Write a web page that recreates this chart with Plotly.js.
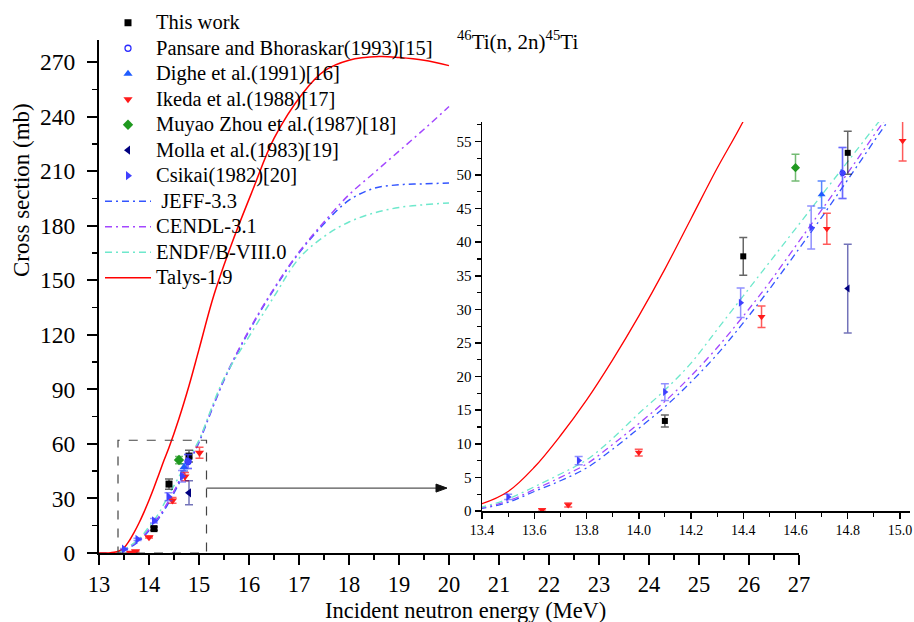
<!DOCTYPE html>
<html><head><meta charset="utf-8">
<script src="https://cdn.plot.ly/plotly-3.0.1.min.js"></script>
<style>html,body{margin:0;padding:0;background:#fff}</style>
</head><body><div id="chart" style="width:914px;height:622px"></div>
<script>
// ---- evaluated / calculated curves ----
const talysE  = [13.0,13.2,13.3,13.4,13.5,13.6,13.7,13.8,13.9,14.0,14.1,14.2,14.3,14.4,14.6,14.8,15.0,15.3,15.68,16.08,16.5,17.08,17.5,18.0,18.6,19.0,19.5,20.0];
const talysXS = [0,0.05,0.35,1.1,2.9,6.5,11.2,16.5,22.5,29,36,43.5,51,58,74,92,112,142,172,200,228,253,265,271,273,272.5,271,268];

const evalE   = [13.0,13.3,13.4,13.5,13.6,13.7,13.8,13.9,14.0,14.1,14.2,14.3,14.4,14.5,14.6,14.7,14.8,14.9,15.0,15.5,16.0,16.5,17.0,17.5,18.0,18.5,19.0,19.5,20.0];
const jeffXS  = [0,0,0.4,1.3,2.9,4.5,6.4,9.2,12.3,15.5,19.2,23.3,28,33,38.3,43.7,49.3,55,60.8,95,122,145,165,181,194,200.5,202.5,203,203.5];
const cendlXS = [0,0,0.5,1.5,3.2,5,7.0,9.9,13.0,16.3,20.1,24.3,29,34,39.4,44.8,50.3,55.9,61.5,95.5,122.5,145.5,165.5,182,197,209,221,233,245.5];
const endfXS  = [0,0,0.6,1.8,3.6,5.5,7.6,10.8,14.5,18,22,27,32,37,42,47,52,57,62,96,119,141,162,174,182,187,190,191.5,192.5];

// ---- experimental data ----
const thisE = [14.1,14.4,14.8],            thisXS = [13.4,37.9,53.3],          thisErr = [0.9,2.8,3.2];
const pansE = [14.78],                      pansXS = [50.3],                    pansErr = [3.8];
const digE  = [14.7],                       digXS  = [47.1],                    digErr  = [2.0];
const ikeE  = [13.63,13.73,14.0,14.47,14.72,15.01], ikeXS = [0.15,0.9,8.7,28.9,42.0,55.1], ikeErr = [0.2,0.3,0.5,1.6,2.3,3.0];
const muyE  = [14.6],                       muyXS  = [51.1],                    muyErr  = [2.0];
const molE  = [14.8],                       molXS  = [33.1],                    molErr  = [6.6];
const csiE  = [13.5,13.77,14.1,14.39,14.66,14.78], csiXS = [2.1,7.5,17.7,31.0,42.2,50.3], csiErr = [0.4,0.6,1.25,2.2,3.2,3.8];

const names = ['This work','Pansare and Bhoraskar(1993)[15]','Dighe et al.(1991)[16]','Ikeda et al.(1988)[17]',
  'Muyao Zhou et al.(1987)[18]','Molla et al.(1983)[19]','Csikai(1982)[20]',' JEFF-3.3','CENDL-3.1','ENDF/B-VIII.0','Talys-1.9'];
const lbl = s => '<span style="font-size:20.5px">' + s + '</span>';

const pts = [
  {x:thisE, y:thisXS, e:thisErr, sym:'square', col:'#000000', ecol:'rgba(0,0,0,0.6)', sz:7},
  {x:pansE, y:pansXS, e:pansErr, sym:'circle-open', col:'#2a2aff', ecol:'rgba(60,60,255,0.5)', sz:6},
  {x:digE, y:digXS, e:digErr, sym:'triangle-up', col:'#1f5cff', ecol:'rgba(31,92,255,0.75)', sz:8},
  {x:ikeE, y:ikeXS, e:ikeErr, sym:'triangle-down', col:'#ff1a1a', ecol:'rgba(255,20,20,0.7)', sz:8},
  {x:muyE, y:muyXS, e:muyErr, sym:'diamond', col:'#1f991f', ecol:'rgba(40,150,40,0.65)', sz:8},
  {x:molE, y:molXS, e:molErr, sym:'triangle-left', col:'#000080', ecol:'rgba(0,0,128,0.55)', sz:8},
  {x:csiE, y:csiXS, e:csiErr, sym:'triangle-right', col:'#4040ff', ecol:'rgba(70,70,255,0.6)', sz:8}
];
const curves = [
  {x:evalE, y:jeffXS, col:'#3355ff', dash:'7px,4px,2px,4px'},
  {x:evalE, y:cendlXS, col:'#a347ff', dash:'7px,4px,2px,4px'},
  {x:evalE, y:endfXS, col:'#6ee8cc', dash:'7px,4px,2px,4px'},
  {x:talysE, y:talysXS, col:'#ff0000', dash:'solid'}
];

const data = [];
curves.forEach((c,i) => {
  data.push({x:c.x, y:c.y, type:'scatter', mode:'lines', name:lbl(names[7+i]), legendrank:8+i,
    line:{color:c.col, width:1.5, dash:c.dash, shape:'spline', smoothing:1}, xaxis:'x', yaxis:'y'});
  data.push({x:c.x, y:c.y, type:'scatter', mode:'lines', showlegend:false,
    line:{color:c.col, width:1.3, dash:c.dash, shape:'spline', smoothing:1}, xaxis:'x2', yaxis:'y2'});
});
pts.forEach((p,i) => {
  data.push({x:p.x, y:p.y, type:'scatter', mode:'markers', name:lbl(names[i]), legendrank:1+i,
    marker:{symbol:p.sym, color:p.col, size:p.sz, line:{width:p.sym==='circle-open'?1.3:0, color:p.col}},
    error_y:{type:'data', array:p.e, visible:true, color:p.ecol, thickness:1.5, width:4}, xaxis:'x', yaxis:'y'});
  data.push({x:p.x, y:p.y, type:'scatter', mode:'markers', showlegend:false,
    marker:{symbol:p.sym, color:p.col, size:p.sz-1, line:{width:p.sym==='circle-open'?1.2:0, color:p.col}},
    error_y:{type:'data', array:p.e, visible:true, color:p.ecol, thickness:1.5, width:4}, xaxis:'x2', yaxis:'y2'});
});

const serif = 'Liberation Serif';
const W = 811, H = 523;
const arrowY = 35.7, arrowX0 = 15.15, arrowX1 = 19.92;
const layout = {
  width:914, height:622,
  margin:{l:99, r:4, t:30, b:69},
  paper_bgcolor:'#fff', plot_bgcolor:'rgba(0,0,0,0)',
  font:{family:serif, color:'#000'},
  showlegend:true,
  legend:{x:(100-99)/W, y:(553-5)/H, xanchor:'left', yanchor:'top', bgcolor:'rgba(0,0,0,0)', itemwidth:46,
    font:{family:serif, size:17.3, color:'#000'}, traceorder:'normal'},
  xaxis:{domain:[0,700/W], range:[13,27], showline:true, linewidth:2, linecolor:'#000', mirror:false,
    showgrid:false, zeroline:false, ticks:'outside', ticklen:10, tickwidth:2, tickcolor:'#000',
    dtick:1, tick0:13, tickfont:{family:serif, size:22.5},
    minor:{dtick:0.5, ticks:'outside', ticklen:5, tickwidth:1.5, tickcolor:'#000', showgrid:false}},
  yaxis:{domain:[0,(553-40)/H], range:[0,282.1], showline:true, linewidth:2, linecolor:'#000',
    showgrid:false, zeroline:false, ticks:'outside', ticklen:10, tickwidth:2, tickcolor:'#000',
    dtick:30, tick0:0, tickfont:{family:serif, size:23.5}, ticklabelstandoff:7,
    minor:{dtick:15, ticks:'outside', ticklen:5, tickwidth:1.5, tickcolor:'#000', showgrid:false}},
  xaxis2:{domain:[383/W,1], range:[13.4,15.0383], anchor:'y2', showline:true, linewidth:1.5, linecolor:'#000',
    showgrid:false, zeroline:false, ticks:'outside', ticklen:6, tickwidth:1.5, tickcolor:'#000',
    dtick:0.2, tick0:13.4, tickformat:'.1f', tickfont:{family:serif, size:14},
    minor:{dtick:0.1, ticks:'outside', ticklen:4, tickwidth:1.2, tickcolor:'#000', showgrid:false}},
  yaxis2:{domain:[42/H,431/H], range:[0,57.89], anchor:'x2', showline:true, linewidth:1.5, linecolor:'#000',
    showgrid:false, zeroline:false, ticks:'outside', ticklen:6, tickwidth:1.5, tickcolor:'#000',
    dtick:5, tick0:0, tickfont:{family:serif, size:15},
    minor:{dtick:2.5, ticks:'outside', ticklen:4, tickwidth:1.2, tickcolor:'#000', showgrid:false}},
  shapes:[
    {type:'rect', xref:'x', yref:'y', x0:13.38, x1:15.15, y0:0, y1:62, line:{color:'#444', width:1.2, dash:'dash'}},
    {type:'line', xref:'x', yref:'y', x0:arrowX0, x1:arrowX1, y0:arrowY, y1:arrowY, line:{color:'#555', width:1.3}},
    {type:'path', xref:'x', yref:'y', xsizemode:'pixel', ysizemode:'pixel', xanchor:arrowX1, yanchor:arrowY,
     path:'M2,0 L-9,4 L-9,-4 Z', fillcolor:'#111', line:{color:'#111', width:1}}
  ],
  annotations:[
    {xref:'paper', yref:'paper', x:(455-99)/W, y:(553-40)/H, xanchor:'left', yanchor:'middle', showarrow:false,
     text:'<sup>46</sup>Ti(n, 2n)<sup>45</sup>Ti', font:{family:serif, size:21, color:'#000'}},
    {xref:'paper', yref:'paper', x:(465-99)/W, y:(553-610)/H, xanchor:'center', yanchor:'middle', showarrow:false,
     text:'Incident neutron energy (MeV)', font:{family:serif, size:22.5, color:'#000'}},
    {xref:'paper', yref:'paper', x:(22-99)/W, y:(553-190)/H, xanchor:'center', yanchor:'middle', showarrow:false,
     textangle:-90, text:'Cross section (mb)', font:{family:serif, size:23, color:'#000'}}
  ]
};
Plotly.newPlot('chart', data, layout, {displayModeBar:false, staticPlot:true});
</script></body></html>
